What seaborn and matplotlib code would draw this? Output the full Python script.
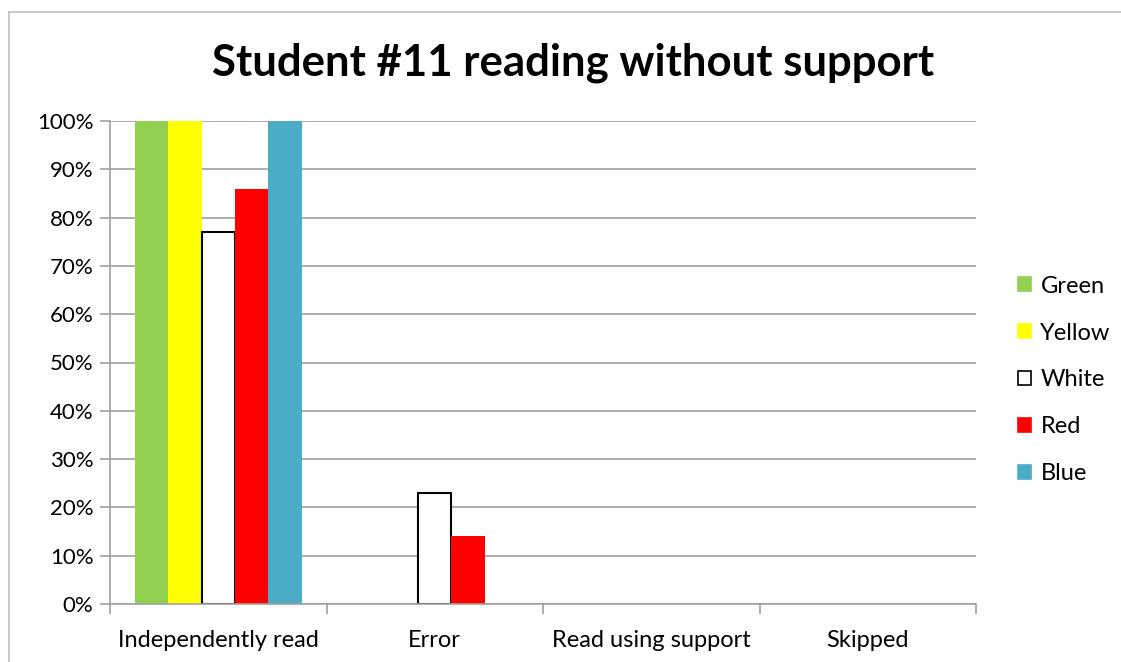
import matplotlib
matplotlib.use("Agg")
import matplotlib.pyplot as plt
from matplotlib.lines import Line2D
import numpy as np
import pandas as pd
import seaborn as sns

# chart data
categories = ["Independently read", "Error", "Read using support", "Skipped"]
series = ["Green", "Yellow", "White", "Red", "Blue"]
green = [100, 0, 0, 0]
yellow = [100, 0, 0, 0]
white = [77, 23, 0, 0]
red = [86, 14, 0, 0]
blue = [100, 0, 0, 0]
colors = ["#92d050", "#ffff00", "#ffffff", "#ff0000", "#4bacc6"]

values = {"Green": green, "Yellow": yellow, "White": white, "Red": red, "Blue": blue}
rows = []
for s in series:
    for c, v in zip(categories, values[s]):
        rows.append({"category": c, "series": s, "value": v})
df = pd.DataFrame(rows)

sns.set_style("white")
plt.rcParams["font.family"] = ["Lato", "DejaVu Sans"]
plt.rcParams["text.color"] = "black"
plt.rcParams["xtick.color"] = "black"
plt.rcParams["ytick.color"] = "black"

fig = plt.figure(figsize=(11.21, 6.62), dpi=100)
ax = fig.add_axes([110 / 1121, 58 / 662, 866 / 1121, 483 / 662])

sns.barplot(data=df, x="category", y="value", hue="series", palette=colors,
            hue_order=series, order=categories, width=0.77, saturation=1,
            ax=ax, legend=False, linewidth=0)

# outline the white bars that have height
for p in ax.patches:
    fc = p.get_facecolor()
    if fc[0] > 0.99 and fc[1] > 0.99 and fc[2] > 0.99 and p.get_height() > 0:
        p.set_edgecolor("black")
        p.set_linewidth(1.5)

grid_c = "#a0a0a0"
ax.set_ylim(0, 100)
ax.set_xlim(-0.5, 3.5)
ax.set_yticks(np.arange(0, 101, 10))
ax.set_yticklabels([f"{t}%" for t in range(0, 101, 10)], fontsize=16)
ax.yaxis.grid(True, color=grid_c, linewidth=1.2)
ax.set_axisbelow(True)
ax.tick_params(axis="y", length=7, color=grid_c, width=1.2, pad=5, left=True, labelcolor="black")
ax.set_xticks(range(len(categories)))
ax.set_xticklabels(categories, fontsize=17)
ax.set_xticks([-0.5, 0.5, 1.5, 2.5, 3.5], minor=True)
ax.tick_params(axis="x", which="major", length=0, pad=19, labelcolor="black")
ax.tick_params(axis="x", which="minor", length=7, color=grid_c, width=1.2, bottom=True)
ax.set_xlabel("")
ax.set_ylabel("")
for side in ["top", "right"]:
    ax.spines[side].set_visible(False)
for side in ["left", "bottom"]:
    ax.spines[side].set_color(grid_c)
    ax.spines[side].set_linewidth(1.2)

handles = [plt.Rectangle((0, 0), 1, 1, facecolor=c,
                         edgecolor="black" if s == "White" else c, linewidth=1.2)
           for s, c in zip(series, colors)]
fig.legend(handles, series, loc="center left", bbox_to_anchor=(1018 / 1121, 1 - 380 / 662),
           frameon=False, fontsize=17, handlelength=0.55, handleheight=0.55,
           handletextpad=0.4, labelspacing=1.1, borderpad=0, borderaxespad=0,
           labelcolor="black")

fig.text(0.511, 1 - 63 / 662, "Student #11 reading without support",
         ha="center", va="center", fontsize=31.5, fontweight="bold", color="black")

# chart frame
fig.add_artist(Line2D([9 / 1121, 1], [1 - 12 / 662, 1 - 12 / 662], color="#c0c0c0", lw=1.2))
fig.add_artist(Line2D([9 / 1121, 9 / 1121], [0, 1 - 12 / 662], color="#c0c0c0", lw=1.2))

fig.savefig("out.png", dpi=100)
